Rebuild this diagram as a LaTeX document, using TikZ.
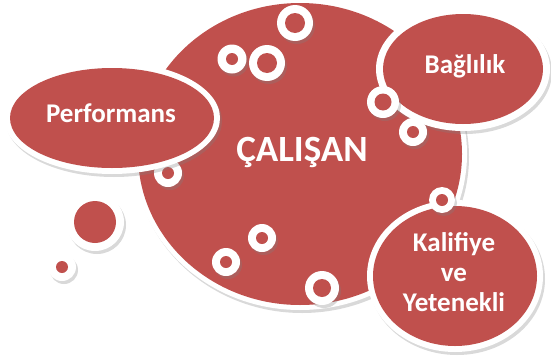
\documentclass[tikz,border=0pt]{standalone}
\usepackage{fontspec}
\setmainfont{Carlito}
\usetikzlibrary{shadows}
\definecolor{calred}{HTML}{C0504D}
\begin{document}
\begin{tikzpicture}[x=1pt,y=1pt]
        \tikzstyle{every node}+=[inner sep=0pt, text=white, font=\bfseries\fontsize{27}{30}\selectfont]
        \tikzstyle{rim}=[fill=white, drop shadow={shadow xshift=2pt, shadow yshift=-3pt, opacity=0.3}]
        \tikzstyle{core}=[fill=calred]
        \useasboundingbox (0,0) rectangle (551,-359);
        % central circle
        \fill [rim] (300,-154) ellipse [x radius=167, y radius=156];
        \fill [core] (300,-154) ellipse [x radius=162, y radius=151];
        \draw (302,-152) node (calisan) {\fontsize{37}{40}\selectfont ÇALIŞAN};
        % rings on the central circle
        \fill [rim] (295,-23) circle (18);
        \fill [core] (295,-23) circle (10);
        \fill [rim] (232,-59) circle (14.5);
        \fill [core] (232,-59) circle (6);
        \fill [rim] (267,-63) circle (18);
        \fill [core] (267,-63) circle (10);
        \fill [rim] (168,-173) circle (14);
        \fill [core] (168,-173) circle (6);
        \fill [rim] (262,-238) circle (14);
        \fill [core] (262,-238) circle (6);
        \fill [rim] (226,-262) circle (14);
        \fill [core] (226,-262) circle (6);
        \fill [rim] (322,-288) circle (17);
        \fill [core] (322,-288) circle (9);
        % Performans
        \fill [rim] (112,-118) ellipse [x radius=108, y radius=56];
        \fill [core] (112,-118) ellipse [x radius=102, y radius=50];
        \draw (111,-113) node (performans) {Performans};
        % Baglilik
        \fill [rim] (463,-69) ellipse [x radius=87, y radius=62];
        \fill [core] (463,-69) ellipse [x radius=80, y radius=55];
        \draw (465,-66) node (baglilik) {Bağlılık};
        \fill [rim] (383,-102) circle (16);
        \fill [core] (383,-102) circle (8.5);
        \fill [rim] (413,-132) circle (14);
        \fill [core] (413,-132) circle (6);
        % Kalifiye ve Yetenekli
        \fill [rim] (455,-276) ellipse [x radius=88, y radius=76];
        \fill [core] (455,-276) ellipse [x radius=82, y radius=70];
        \draw (454,-272) node [align=center] (kalifiye) {Kalifiye\\ve\\Yetenekli};
        \fill [rim] (442,-200) circle (13);
        \fill [core] (442,-200) circle (6);
        % loose bubbles
        \fill [rim] (95,-222) circle (29);
        \fill [core] (95,-222) circle (21);
        \fill [rim] (62,-267) circle (14);
        \fill [core] (62,-267) circle (6);
\end{tikzpicture}
\end{document}
